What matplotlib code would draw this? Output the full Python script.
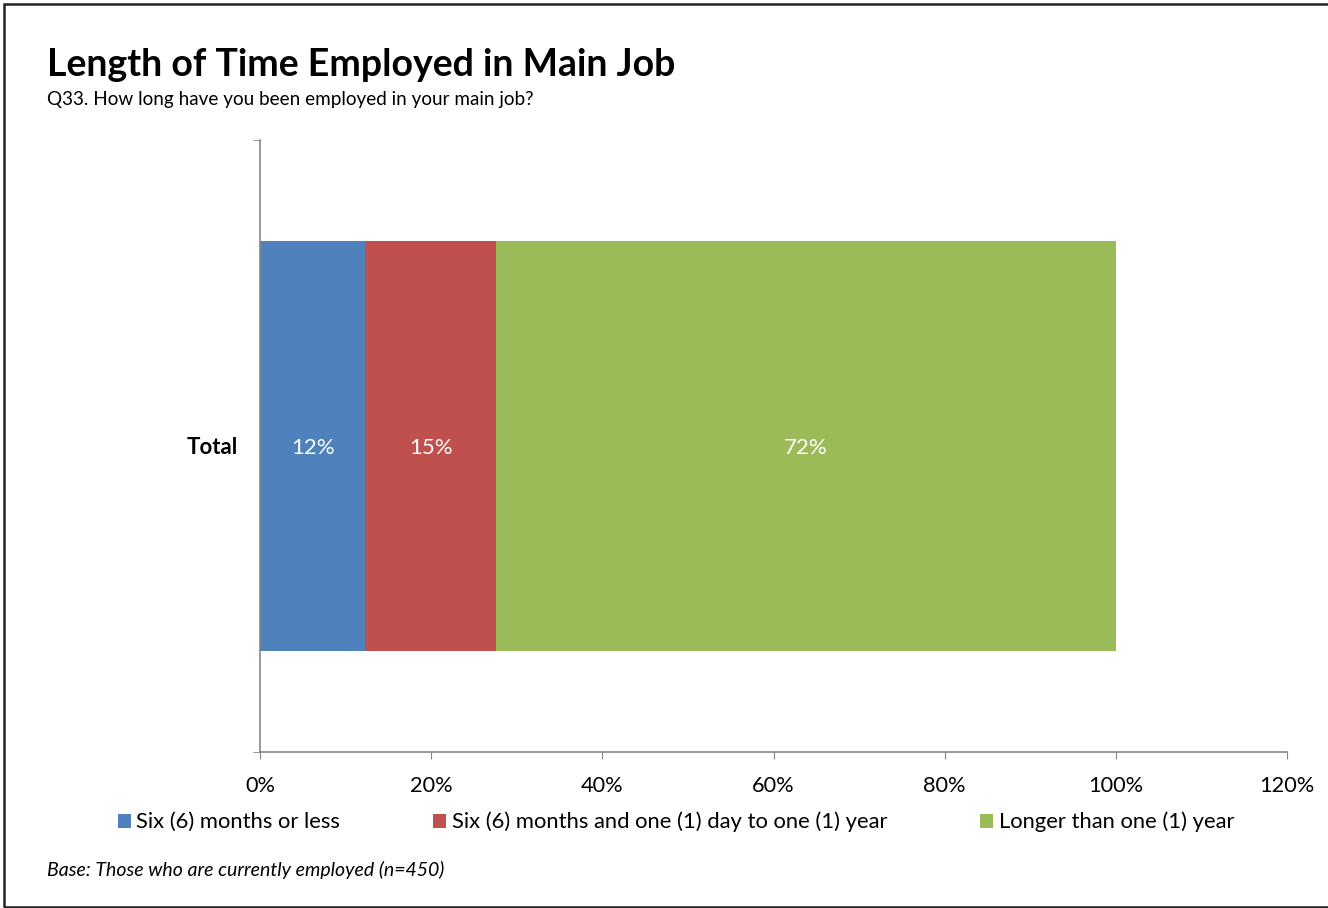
import matplotlib.pyplot as plt
from matplotlib.patches import Rectangle
import numpy as np

plt.rcParams['font.family'] = ['Lato', 'DejaVu Sans']

# data
categories = ['Total']
series = ['Six (6) months or less',
          'Six (6) months and one (1) day to one (1) year',
          'Longer than one (1) year']
values = [12.3, 15.3, 72.4]
colors = ['#4f81bd', '#c0504d', '#9bbb59']
xticks = [0, 20, 40, 60, 80, 100, 120]

fig = plt.figure(figsize=(13.28, 9.08), dpi=100)
ax = fig.add_axes([260 / 1328, 1 - 752 / 908, 1027 / 1328, 612 / 908])

left = 0
for name, v, c in zip(series, values, colors):
    bars = ax.barh(categories, [v], left=left, height=0.67, color=c, label=name)
    for b in bars:
        ax.text(b.get_x() + b.get_width() / 2, b.get_y() + b.get_height() / 2,
                f'{v:.0f}%', ha='center', va='center_baseline', color='white', fontsize=16)
    left += v

ax.set_xlim(0, 120)
ax.set_ylim(-0.5, 0.5)
ax.set_xticks(xticks)
ax.set_xticklabels([f'{t}%' for t in xticks], fontsize=15.7)
ax.set_yticks([0])
ax.set_yticklabels(categories, fontsize=16, fontweight='bold')
ax.set_yticks([-0.5, 0.5], minor=True)

grey = '#868686'
for s in ['top', 'right']:
    ax.spines[s].set_visible(False)
for s in ['left', 'bottom']:
    ax.spines[s].set_color(grey)
    ax.spines[s].set_linewidth(1.2)
ax.tick_params(axis='x', direction='out', length=5, color=grey, pad=12)
ax.tick_params(axis='y', which='major', length=0, pad=16)
ax.tick_params(axis='y', which='minor', direction='out', length=5, color=grey)

fig.legend(loc='center', bbox_to_anchor=(0.509, 1 - 822 / 908), ncol=3,
           frameon=False, fontsize=15.8, handlelength=0.6, handleheight=0.6,
           handletextpad=0.25, columnspacing=4.23)

fig.text(47 / 1328, 1 - 76 / 908, 'Length of Time Employed in Main Job',
         fontsize=27, fontweight='bold', va='baseline')
fig.text(47 / 1328, 1 - 105 / 908, 'Q33. How long have you been employed in your main job?',
         fontsize=13.6, va='baseline')
fig.text(47 / 1328, 1 - 876 / 908, 'Base: Those who are currently employed (n=450)',
         fontsize=14, style='italic', va='baseline')

fig.patches.append(Rectangle((4 / 1328, 1 / 908), 1.1, 1 - 5 / 908,
                             transform=fig.transFigure, fill=False,
                             edgecolor='#222222', linewidth=1.8))

fig.savefig('out.png', dpi=100)
